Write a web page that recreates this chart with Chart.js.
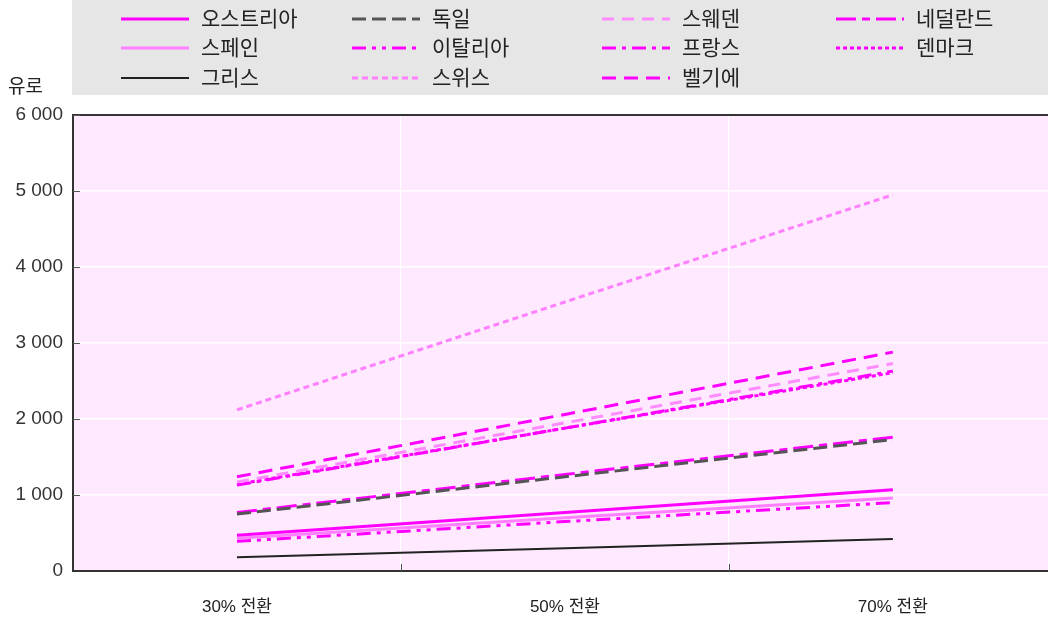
<!DOCTYPE html>
<html>
<head>
<meta charset="utf-8">
<script src="https://cdn.jsdelivr.net/npm/chart.js@4/dist/chart.umd.min.js"></script>
<style>
  html, body { margin:0; padding:0; background:#fff; }
  #wrap { width:1048px; height:618px; }
</style>
</head>
<body>
<div id="wrap"><canvas id="c" width="1048" height="618"></canvas></div>
<script>
// categories and values (euro)
const categories = ['30% 전환', '50% 전환', '70% 전환'];
const yTicks = [0, 1000, 2000, 3000, 4000, 5000, 6000];

const austria     = [470, 770, 1070];
const spain       = [430, 700, 960];
const greece      = [180, 300, 420];
const germany     = [750, 1240, 1730];
const italy       = [390, 650, 900];
const switzerland = [2120, 3540, 4950];
const sweden      = [1170, 1950, 2730];
const france      = [1130, 1880, 2630];
const belgium     = [1240, 2060, 2880];
const netherlands = [770, 1270, 1760];
const denmark     = [1140, 1880, 2610];

const MAG = '#ff00ff', LIGHT = '#ff80ff';
const series = [
  { label: '오스트리아', data: austria,     color: MAG,    width: 3, dash: [] },
  { label: '스페인',     data: spain,       color: LIGHT,  width: 3, dash: [] },
  { label: '그리스',     data: greece,      color: '#222', width: 2, dash: [] },
  { label: '독일',       data: germany,     color: '#555', width: 3, dash: [14, 6] },
  { label: '이탈리아',   data: italy,       color: MAG,    width: 3, dash: [14, 6, 4, 6, 4, 6] },
  { label: '스위스',     data: switzerland, color: LIGHT,  width: 3, dash: [6, 4] },
  { label: '스웨덴',     data: sweden,      color: '#ff8cff', width: 3, dash: [12, 8] },
  { label: '프랑스',     data: france,      color: MAG,    width: 3, dash: [14, 6, 4, 6] },
  { label: '벨기에',     data: belgium,     color: MAG,    width: 3, dash: [14, 8] },
  { label: '네덜란드',   data: netherlands, color: MAG,    width: 3, dash: [20, 6, 8, 6] },
  { label: '덴마크',     data: denmark,     color: MAG,    width: 3, dash: [4, 3] }
];

const FONT = "'Liberation Sans', 'Noto Sans CJK KR', sans-serif";
const fmt = v => String(v).replace(/\B(?=(\d{3})+(?!\d))/g, ' ');

const decor = {
  id: 'decor',
  beforeDraw(chart) {
    const { ctx, chartArea: a } = chart;
    ctx.save();
    ctx.fillStyle = '#ffe9ff';
    ctx.fillRect(a.left, a.top, a.right - a.left, a.bottom - a.top);
    ctx.restore();
  },
  afterDraw(chart) {
    const { ctx, chartArea: a, scales } = chart;
    ctx.save();
    // top border
    ctx.strokeStyle = '#333'; ctx.lineWidth = 2;
    ctx.beginPath(); ctx.moveTo(a.left - 1, a.top); ctx.lineTo(a.right, a.top); ctx.stroke();
    // inward ticks
    ctx.strokeStyle = '#555'; ctx.lineWidth = 1;
    [0.5, 1.5].forEach(v => {
      const x = Math.round(scales.x.getPixelForValue(v)) + 0.5;
      ctx.beginPath(); ctx.moveTo(x, a.bottom); ctx.lineTo(x, a.bottom - 7); ctx.stroke();
    });
    yTicks.slice(1).forEach(v => {
      const y = Math.round(scales.y.getPixelForValue(v)) + 0.5;
      ctx.beginPath(); ctx.moveTo(a.left, y); ctx.lineTo(a.left + 7, y); ctx.stroke();
    });
    // axis unit
    ctx.fillStyle = '#222'; ctx.font = '19px ' + FONT;
    ctx.textBaseline = 'middle'; ctx.textAlign = 'left';
    ctx.fillText('유로', 8, 88);
    // legend box
    ctx.fillStyle = '#e6e6e6';
    ctx.fillRect(72, 0, 976, 95);
    const colX = [121, 352, 602, 836];
    const rowY = [19, 48, 78];
    chart.data.datasets.forEach((ds, i) => {
      const x = colX[Math.floor(i / 3)], y = rowY[i % 3];
      ctx.strokeStyle = ds.borderColor; ctx.lineWidth = ds.borderWidth;
      ctx.setLineDash(ds.borderDash);
      ctx.beginPath(); ctx.moveTo(x, y); ctx.lineTo(x + 68, y); ctx.stroke();
      ctx.setLineDash([]);
      ctx.fillStyle = '#222'; ctx.font = '21px ' + FONT;
      ctx.fillText(ds.label, x + 80, y + 1);
    });
    ctx.restore();
  }
};

new Chart(document.getElementById('c'), {
  type: 'line',
  data: {
    datasets: series.map(s => ({
      label: s.label,
      data: s.data.map((v, i) => ({ x: i, y: v })),
      borderColor: s.color,
      borderWidth: s.width,
      borderDash: s.dash,
      pointRadius: 0,
      fill: false,
      tension: 0
    }))
  },
  options: {
    responsive: false,
    animation: false,
    layout: { padding: { top: 115, left: 0, right: 0, bottom: 0 } },
    plugins: { legend: { display: false }, tooltip: { enabled: false } },
    scales: {
      x: {
        type: 'linear', min: -0.5, max: 2.473,
        afterBuildTicks: s => { s.ticks = [0, 0.5, 1, 1.5, 2].map(v => ({ value: v })); },
        afterFit: s => { s.height = 47; },
        ticks: {
          autoSkip: false, maxRotation: 0, padding: 26,
          color: '#222', font: { family: FONT, size: 17 },
          callback: v => Number.isInteger(v) ? categories[v] : ''
        },
        grid: {
          drawTicks: false, lineWidth: 1,
          color: c => (c.tick && c.tick.value % 1 !== 0) ? '#ffffff' : 'rgba(0,0,0,0)'
        },
        border: { display: true, color: '#333', width: 2 }
      },
      y: {
        min: 0, max: 6000,
        afterBuildTicks: s => { s.ticks = yTicks.map(v => ({ value: v })); },
        afterFit: s => { s.width = 73; },
        ticks: { padding: 10, color: '#333', font: { family: FONT, size: 19 }, callback: v => fmt(v) },
        grid: { drawTicks: false, color: '#ffffff', lineWidth: 1.5 },
        border: { display: true, color: '#333', width: 2 }
      }
    }
  },
  plugins: [decor]
});
</script>
</body>
</html>
